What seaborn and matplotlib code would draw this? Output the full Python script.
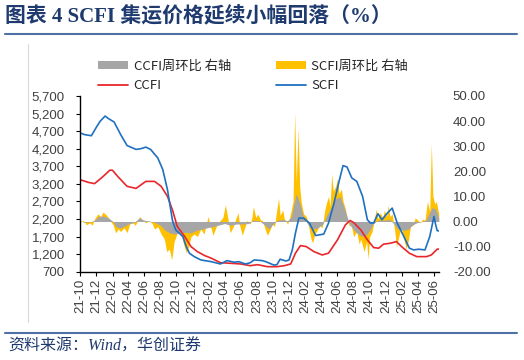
import matplotlib
matplotlib.use('Agg')
import matplotlib.pyplot as plt
import matplotlib.dates as mdates
import matplotlib.ticker as mticker
from matplotlib.patches import Patch
from matplotlib.lines import Line2D
import seaborn as sns
import pandas as pd

# ---------------- data ----------------
scfi_dates = ["2021-10-01", "2021-10-19", "2021-11-13", "2021-12-01", "2021-12-16", "2022-01-04",
              "2022-01-16", "2022-02-07", "2022-03-04", "2022-03-28", "2022-05-01", "2022-05-19",
              "2022-06-07", "2022-06-25", "2022-07-22", "2022-08-10", "2022-08-28", "2022-09-16",
              "2022-09-28", "2022-10-25", "2022-11-07", "2022-11-19", "2022-12-07", "2023-01-01",
              "2023-02-10", "2023-03-16", "2023-04-10", "2023-05-07", "2023-05-25", "2023-06-19",
              "2023-07-07", "2023-07-22", "2023-08-22", "2023-09-04", "2023-10-04", "2023-10-16",
              "2023-10-28", "2023-11-19", "2023-12-01", "2023-12-13", "2023-12-25", "2024-01-07",
              "2024-01-25", "2024-02-16", "2024-03-10", "2024-04-10", "2024-04-28", "2024-05-19",
              "2024-06-07", "2024-06-22", "2024-07-07", "2024-07-25", "2024-08-13", "2024-09-04",
              "2024-09-22", "2024-10-04", "2024-10-16", "2024-11-01", "2024-11-16", "2024-12-07",
              "2024-12-25", "2025-01-13", "2025-02-07", "2025-02-28", "2025-03-16", "2025-04-04",
              "2025-04-28", "2025-05-16", "2025-06-01", "2025-06-07", "2025-06-13", "2025-06-19"]
scfi_values = [4650, 4600, 4570, 4800, 4980, 5130,
               5060, 4960, 4600, 4290, 4180, 4200,
               4245, 4180, 3940, 3610, 3030, 2150,
               1890, 1700, 1410, 1225, 1130, 1035,
               985, 920, 1015, 970, 985, 920,
               955, 1035, 1015, 985, 890, 900,
               1055, 1005, 1035, 1320, 1800, 2226,
               2226, 2083, 1730, 1770, 2083, 2654,
               3271, 3720, 3680, 3370, 3270, 2843,
               2177, 2083, 2090, 2350, 2177, 2370,
               2510, 2083, 1700, 1370, 1320, 1340,
               1320, 1700, 2270, 2050, 1870, 1860]

ccfi_dates = ["2021-10-01", "2021-11-01", "2021-11-25", "2021-12-26", "2022-01-22", "2022-02-01",
              "2022-02-22", "2022-03-28", "2022-05-01", "2022-06-07", "2022-07-10", "2022-08-04",
              "2022-08-28", "2022-09-16", "2022-10-04", "2022-11-01", "2022-11-25", "2022-12-19",
              "2023-01-16", "2023-02-10", "2023-03-16", "2023-04-22", "2023-06-01", "2023-07-07",
              "2023-08-04", "2023-09-10", "2023-10-16", "2023-11-13", "2023-12-07", "2023-12-25",
              "2024-01-13", "2024-02-04", "2024-03-04", "2024-04-04", "2024-04-28", "2024-06-01",
              "2024-07-01", "2024-07-19", "2024-08-01", "2024-08-28", "2024-09-22", "2024-10-16",
              "2024-11-04", "2024-11-22", "2024-12-19", "2025-01-10", "2025-02-01", "2025-02-28",
              "2025-03-28", "2025-05-04", "2025-05-22", "2025-06-13", "2025-06-19"]
ccfi_values = [3320, 3243, 3206, 3400, 3590, 3586,
               3400, 3130, 3070, 3270, 3270, 3130,
               2843, 2450, 1986, 1700, 1414, 1271,
               1157, 1083, 957, 940, 920, 871,
               900, 843, 843, 871, 920, 1226,
               1443, 1414, 1271, 1177, 1226, 1606,
               2034, 2157, 2100, 1891, 1606, 1386,
               1369, 1483, 1511, 1557, 1397, 1226,
               1129, 1129, 1177, 1340, 1345]

scfi_wow_dates = ["2021-10-01", "2021-10-13", "2021-10-25", "2021-11-07", "2021-11-16", "2021-11-25",
                  "2021-12-07", "2021-12-19", "2021-12-27", "2022-01-10", "2022-01-22", "2022-02-04",
                  "2022-02-13", "2022-02-22", "2022-03-04", "2022-03-16", "2022-03-28", "2022-04-07",
                  "2022-04-19", "2022-04-28", "2022-05-07", "2022-05-16", "2022-05-25", "2022-06-07",
                  "2022-06-19", "2022-07-01", "2022-07-10", "2022-07-22", "2022-08-04", "2022-08-16",
                  "2022-08-25", "2022-09-04", "2022-09-13", "2022-09-22", "2022-10-04", "2022-10-19",
                  "2022-10-28", "2022-11-07", "2022-11-16", "2022-11-25", "2022-12-07", "2022-12-19",
                  "2023-01-01", "2023-01-13", "2023-01-22", "2023-01-28", "2023-02-07", "2023-02-16",
                  "2023-02-25", "2023-03-04", "2023-03-16", "2023-03-25", "2023-04-04", "2023-04-13",
                  "2023-04-22", "2023-05-04", "2023-05-13", "2023-05-22", "2023-05-28", "2023-06-07",
                  "2023-06-16", "2023-06-25", "2023-07-07", "2023-07-13", "2023-07-19", "2023-07-28",
                  "2023-08-04", "2023-08-16", "2023-08-22", "2023-09-01", "2023-09-10", "2023-09-19",
                  "2023-09-28", "2023-10-07", "2023-10-13", "2023-10-22", "2023-10-28", "2023-11-07",
                  "2023-11-13", "2023-11-25", "2023-12-01", "2023-12-10", "2023-12-16", "2023-12-22",
                  "2023-12-28", "2024-01-04", "2024-01-10", "2024-01-16", "2024-01-25", "2024-02-04",
                  "2024-02-13", "2024-02-22", "2024-02-28", "2024-03-07", "2024-03-16", "2024-03-25",
                  "2024-04-04", "2024-04-13", "2024-04-19", "2024-04-28", "2024-05-04", "2024-05-10",
                  "2024-05-16", "2024-05-25", "2024-06-01", "2024-06-07", "2024-06-16", "2024-06-22",
                  "2024-07-01", "2024-07-07", "2024-07-16", "2024-07-22", "2024-08-01", "2024-08-13",
                  "2024-08-22", "2024-08-28", "2024-09-10", "2024-09-19", "2024-09-25", "2024-10-01",
                  "2024-10-10", "2024-10-19", "2024-10-25", "2024-11-01", "2024-11-10", "2024-11-19",
                  "2024-11-25", "2024-12-04", "2024-12-10", "2024-12-16", "2024-12-25", "2025-01-04",
                  "2025-01-10", "2025-01-19", "2025-01-28", "2025-02-07", "2025-02-16", "2025-02-25",
                  "2025-03-04", "2025-03-13", "2025-03-22", "2025-04-01", "2025-04-10", "2025-04-19",
                  "2025-04-28", "2025-05-07", "2025-05-16", "2025-05-22", "2025-05-28", "2025-06-04",
                  "2025-06-10", "2025-06-19"]
scfi_wow_values = [-0.5, 0.5, -1.3, -0.5, -1.5, 1.0,
                   3.0, 2.0, 3.8, 2.5, 0.5, -1.5,
                   -4.5, -3.0, -4.0, -2.5, -4.4, -1.0,
                   -0.5, -1.5, 0.3, 2.0, 0.5, -0.5,
                   0.3, -0.8, -3.0, -2.0, -5.0, -7.0,
                   -12.0, -11.0, -15.3, -8.0, -4.5, -5.0,
                   -9.0, -12.5, -10.0, -6.0, -5.0, -6.0,
                   -3.0, -5.0, -1.0, 2.0, -2.0, -5.5,
                   -3.0, -1.0, 0.5, 1.5, 6.6, 1.5,
                   -4.5, -2.0, 1.0, 3.5, -1.5, -5.5,
                   -2.5, 0.5, -1.0, 1.5, 6.0, 1.5,
                   3.0, 0.5, 0.5, -3.0, -5.5, -3.5,
                   -1.0, -2.0, 3.0, 9.3, 2.5, 4.5,
                   1.0, -1.0, 0.5, 5.0, 8.0, 43.5,
                   16.0, 37.0, 14.0, 7.5, 3.0, 2.0,
                   -2.0, -7.0, -8.5, -5.0, -3.5, -1.5,
                   -2.5, 4.0, 7.0, 10.0, 6.0, 19.0,
                   12.0, 14.0, 17.0, 11.0, 13.0, 8.0,
                   5.0, 1.5, -2.0, -1.0, -6.0, -4.0,
                   -9.0, -7.0, -12.0, -8.0, -15.0, -6.0,
                   -4.0, 1.0, 5.0, 1.0, 3.5, 1.5,
                   4.5, 2.0, 6.5, 2.0, 3.0, -4.0,
                   -10.0, -6.0, -2.0, -7.0, -11.0, -7.0,
                   -2.0, -1.5, 1.5, 0.5, -0.5, 1.0,
                   0.5, 8.0, 4.0, 31.0, 10.0, 7.0,
                   8.0, 3.0]

ccfi_wow_dates = ["2021-10-01", "2021-10-16", "2021-11-07", "2021-11-25", "2021-12-10", "2021-12-28",
                  "2022-01-16", "2022-02-01", "2022-02-13", "2022-03-01", "2022-03-16", "2022-04-01",
                  "2022-04-25", "2022-05-13", "2022-06-01", "2022-06-25", "2022-07-13", "2022-08-01",
                  "2022-08-19", "2022-09-07", "2022-09-25", "2022-10-16", "2022-11-07", "2022-11-25",
                  "2022-12-16", "2023-01-07", "2023-01-25", "2023-02-16", "2023-03-07", "2023-04-01",
                  "2023-04-22", "2023-05-16", "2023-06-07", "2023-07-01", "2023-07-19", "2023-08-10",
                  "2023-09-01", "2023-09-16", "2023-10-01", "2023-10-19", "2023-11-07", "2023-11-25",
                  "2023-12-10", "2023-12-19", "2023-12-28", "2024-01-10", "2024-01-22", "2024-02-01",
                  "2024-02-16", "2024-03-01", "2024-03-19", "2024-04-07", "2024-04-19", "2024-05-07",
                  "2024-05-25", "2024-06-10", "2024-06-25", "2024-07-07", "2024-07-19", "2024-08-07",
                  "2024-08-25", "2024-09-13", "2024-09-28", "2024-10-13", "2024-11-01", "2024-11-25",
                  "2024-12-16", "2025-01-01", "2025-01-16", "2025-02-07", "2025-02-25", "2025-03-10",
                  "2025-03-28", "2025-04-16", "2025-05-01", "2025-05-13", "2025-05-25", "2025-06-07",
                  "2025-06-19"]
ccfi_wow_values = [0.3, -0.3, -0.2, 0.5, 2.0, 2.2,
                   1.5, 0.2, -2.0, -2.6, -2.0, -1.0,
                   -0.3, 1.5, 0.5, 0.1, -0.5, -1.5,
                   -3.5, -4.6, -5.0, -4.5, -4.3, -4.6,
                   -3.5, -3.0, -2.5, -2.0, -1.5, -0.8,
                   -1.5, -1.0, -1.0, -0.8, 0.5, 0.3,
                   -1.5, -3.0, -1.0, 0.5, 0.8, 0.3,
                   2.0, 7.0, 11.0, 7.5, 2.5, 0.3,
                   -2.0, -3.0, -2.5, -1.0, 2.0, 5.5,
                   9.0, 10.0, 6.0, 2.0, -1.5, -4.0,
                   -5.5, -6.0, -4.0, -1.0, 0.5, 0.5,
                   0.8, -1.0, -3.0, -3.5, -3.0, -1.5,
                   -0.5, 0.0, 0.5, 3.0, 5.5, 5.0,
                   1.5]

legend_labels = ["CCFI周环比 右轴", "CCFI", "SCFI周环比 右轴", "SCFI"]
title_text = "图表 4 SCFI 集运价格延续小幅回落（%）"
source_text = "资料来源：Wind，华创证券"

# ---------------- style ----------------
sns.set_theme(style='white')
plt.rcParams['font.family'] = ['Liberation Sans', 'Noto Sans CJK SC', 'DejaVu Sans']
plt.rcParams['axes.unicode_minus'] = False

C_GRAY = '#A6A6A6'
C_YEL = '#FFC000'
C_RED = '#E8262B'
C_BLUE = '#1F70C1'
C_TXT = '#404040'
C_NAVY = '#1F3A6E'
C_RULE = '#4F71A6'

fig = plt.figure(figsize=(5.24, 3.6), dpi=100)
W, H = 524, 360
ax1 = fig.add_axes([80 / W, 1 - 271.7 / H, (439 - 80) / W, (271.7 - 96) / H])
ax2 = ax1.twinx()

# areas (right axis)
ax2.fill_between(pd.to_datetime(scfi_wow_dates), 0, scfi_wow_values, color=C_YEL, lw=0)
ax2.fill_between(pd.to_datetime(ccfi_wow_dates), 0, ccfi_wow_values, color=C_GRAY, lw=0)

# lines (left axis)
sns.lineplot(x=pd.to_datetime(ccfi_dates), y=ccfi_values, ax=ax1, color=C_RED, lw=1.2, legend=False)
sns.lineplot(x=pd.to_datetime(scfi_dates), y=scfi_values, ax=ax1, color=C_BLUE, lw=1.2, legend=False)
ax1.set_zorder(ax2.get_zorder() + 1)
ax1.patch.set_visible(False)

ax1.set_xlim(pd.Timestamp('2021-10-01'), pd.Timestamp('2025-06-20'))
ax1.set_ylim(700, 5700)
ax1.set_yticks(range(700, 5701, 500))
ax1.yaxis.set_major_formatter(mticker.StrMethodFormatter('{x:,.0f}'))
ax2.set_ylim(-20, 50)
ax2.set_yticks(range(-20, 51, 10))
ax2.yaxis.set_major_formatter(mticker.StrMethodFormatter('{x:.2f}'))

ax1.xaxis.set_major_locator(mdates.MonthLocator(bymonth=[2, 4, 6, 8, 10, 12]))
ax1.xaxis.set_major_formatter(mdates.DateFormatter('%y-%m'))
ax1.set_xlabel('')
ax1.set_ylabel('')

for s in ['top', 'right']:
    ax1.spines[s].set_visible(False)
for s in ['left', 'bottom']:
    ax1.spines[s].set_visible(True)
    ax1.spines[s].set_color('black')
    ax1.spines[s].set_linewidth(1.0)
for s in ax2.spines.values():
    s.set_visible(False)

ax1.tick_params(axis='x', bottom=True, direction='out', length=3, width=0.8, color='black',
                labelsize=9.5, labelcolor=C_TXT, pad=2, labelrotation=90)
ax1.tick_params(axis='y', left=True, direction='out', length=3, width=0.8, color='black',
                labelsize=9.5, labelcolor=C_TXT, pad=8)
ax2.tick_params(axis='y', right=False, length=0, labelright=True, labelsize=9.5,
                labelcolor=C_TXT, pad=10)
ax1.grid(False)
ax2.grid(False)

# legend
handles = [Patch(facecolor=C_GRAY, edgecolor='none'),
           Line2D([0], [0], color=C_RED, lw=1.3),
           Patch(facecolor=C_YEL, edgecolor='none'),
           Line2D([0], [0], color=C_BLUE, lw=1.3)]
fig.legend(handles, legend_labels, ncol=2, loc='upper left', bbox_to_anchor=(86 / W, 1 - 48 / H),
           frameon=False, handlelength=2.3, handleheight=0.5, handletextpad=0.4,
           columnspacing=3.4, labelspacing=0.45,
           prop={'family': ['Liberation Sans Narrow', 'Noto Sans CJK SC'], 'size': 9.5})

# title, rules, source
fig.text(5 / W, 1 - 16 / H, title_text, fontsize=15, fontweight='bold', color=C_NAVY, va='center',
         ha='left', family=['Liberation Serif', 'Noto Sans CJK SC'])
fig.add_artist(Line2D([5 / W, 517 / W], [1 - 34 / H] * 2, color=C_RULE, lw=1.5))
fig.add_artist(Line2D([5 / W, 517 / W], [1 - 333 / H] * 2, color=C_RULE, lw=1.5))
fig.add_artist(Line2D([28 / W, 28 / W], [1 - 44 / H, 1 - 322 / H], color='#D9D9D9', lw=0.8))
fig.text(8 / W, 1 - 347 / H, source_text, fontsize=11.5, style='italic', color=C_NAVY, va='center',
         ha='left', family=['Liberation Serif', 'Noto Sans CJK SC'])

fig.savefig('out.png', dpi=100)
